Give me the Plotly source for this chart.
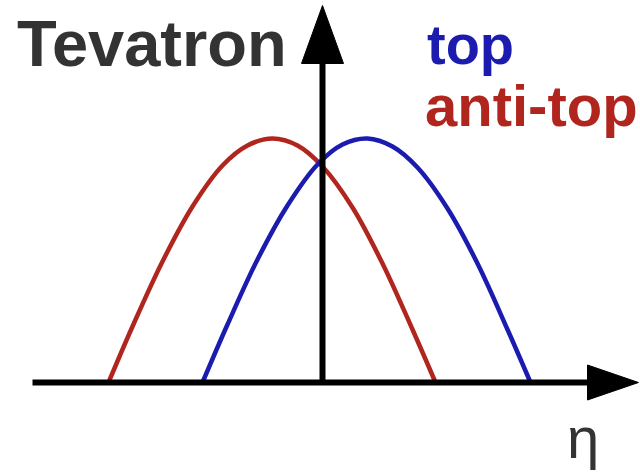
import plotly.graph_objects as go

# Pseudorapidity distributions (schematic) at the Tevatron
anti_top_eta = [-2.14, -1.90, -1.60, -1.30, -1.00, -0.75, -0.50, -0.25, 0.00, 0.30, 0.60, 0.90, 1.13]
anti_top_h = [0.00, 0.56, 1.21, 1.76, 2.17, 2.37, 2.44, 2.37, 2.16, 1.75, 1.19, 0.53, 0.00]

top_eta = [-1.20, -0.95, -0.65, -0.35, -0.05, 0.20, 0.45, 0.70, 0.95, 1.25, 1.55, 1.85, 2.08]
top_h = [0.00, 0.58, 1.23, 1.77, 2.18, 2.38, 2.44, 2.36, 2.15, 1.74, 1.19, 0.53, 0.00]

title_text = "Tevatron"
series_labels = ["top", "anti-top"]
axis_label = "η"

BLUE = "#1b1bb0"
RED = "#b0261e"
INK = "#333333"

X_RANGE = [-3.225, 3.175]
Y_RANGE = [-0.895, 3.825]

fig = go.Figure()
fig.add_trace(go.Scatter(x=anti_top_eta, y=anti_top_h, mode="lines",
                         line=dict(color=RED, width=4.5, shape="spline", smoothing=1.0),
                         name=series_labels[1], hoverinfo="skip"))
fig.add_trace(go.Scatter(x=top_eta, y=top_h, mode="lines",
                         line=dict(color=BLUE, width=4.5, shape="spline", smoothing=1.0),
                         name=series_labels[0], hoverinfo="skip"))

# Hand-drawn style axes with filled arrowheads
x_start, x_arrow_base, x_arrow_tip, x_arrow_half = -2.90, 2.65, 3.16, 0.175
y_arrow_base, y_arrow_tip, y_arrow_half = 3.19, 3.77, 0.21

shapes = [
    dict(type="line", x0=x_start, y0=0, x1=x_arrow_base + 0.02, y1=0,
         line=dict(color="black", width=6), layer="above"),
    dict(type="path",
         path=f"M {x_arrow_base} {-x_arrow_half} L {x_arrow_tip} 0 L {x_arrow_base} {x_arrow_half} Z",
         fillcolor="black", line=dict(color="black", width=1), layer="above"),
    dict(type="line", x0=0, y0=0, x1=0, y1=y_arrow_base + 0.02,
         line=dict(color="black", width=6), layer="above"),
    dict(type="path",
         path=f"M {-y_arrow_half} {y_arrow_base} L 0 {y_arrow_tip} L {y_arrow_half} {y_arrow_base} Z",
         fillcolor="black", line=dict(color="black", width=1), layer="above"),
]

font_family = "Liberation Sans, Arial, sans-serif"
annotations = [
    dict(x=-3.08, y=3.78, text=f"<b>{title_text}</b>", showarrow=False,
         xanchor="left", yanchor="top", font=dict(family=font_family, size=65, color=INK)),
    dict(x=1.02, y=3.72, text=f"<b>{series_labels[0]}</b>", showarrow=False,
         xanchor="left", yanchor="top", font=dict(family=font_family, size=56, color=BLUE)),
    dict(x=1.00, y=3.12, text=f"<b>{series_labels[1]}</b>", showarrow=False,
         xanchor="left", yanchor="top", font=dict(family=font_family, size=58, color=RED)),
    dict(x=2.60, y=-0.20, text=axis_label, showarrow=False,
         xanchor="center", yanchor="top", font=dict(family=font_family, size=58, color=INK)),
]

fig.update_layout(
    width=640, height=472, autosize=False,
    margin=dict(l=0, r=0, t=0, b=0, pad=0),
    paper_bgcolor="white", plot_bgcolor="white",
    showlegend=False,
    shapes=shapes, annotations=annotations,
    xaxis=dict(range=X_RANGE, visible=False, fixedrange=True),
    yaxis=dict(range=Y_RANGE, visible=False, fixedrange=True),
)

fig.write_html("out.html", config={"displayModeBar": False})
